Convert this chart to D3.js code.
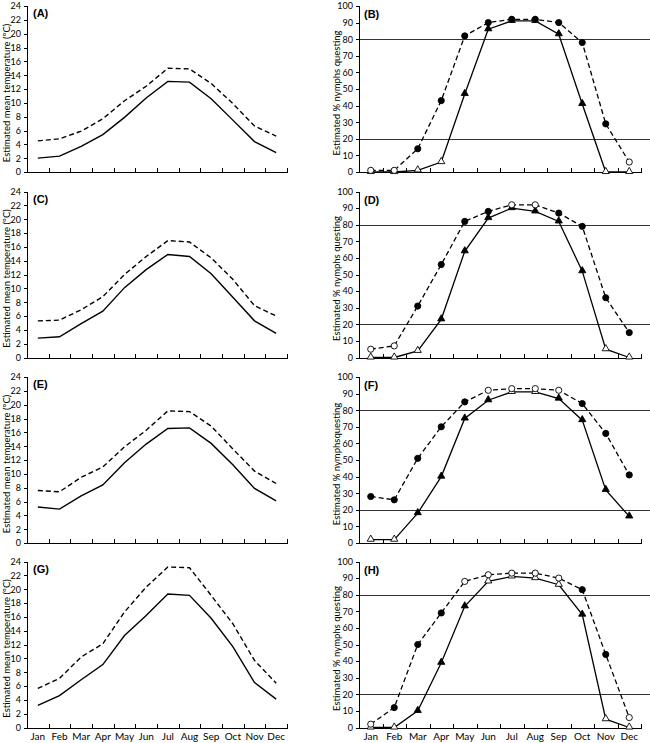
<!DOCTYPE html>
<meta charset="utf-8">
<style>
body { margin: 0; background: #fff; }
svg text { font-family: Lato, "Open Sans", sans-serif; fill: #000; }
.axis path, .axis line { stroke: #000; stroke-width: 1; shape-rendering: crispEdges; }
.axis text { font-size: 9px; }
.plab { font-family: "Liberation Sans", Arial, sans-serif !important; font-weight: bold; font-size: 11px; }
.ylab { font-size: 9.5px; }
</style>
<svg width="650" height="743"></svg>
<script src="https://d3js.org/d3.v7.min.js"></script>
<script>
var months = ["Jan","Feb","Mar","Apr","May","Jun","Jul","Aug","Sep","Oct","Nov","Dec"];
var tempTicks = [0,2,4,6,8,10,12,14,16,18,20,22,24];
var pctTicks = [0,10,20,30,40,50,60,70,80,90,100];
var refLines = [20, 80];

// temperature panels: solid and dashed lines
var tempA_solid = [2.0,2.3,3.7,5.4,7.9,10.7,13.1,13.0,10.6,7.5,4.4,2.8];
var tempA_dash  = [4.5,4.8,5.9,7.7,10.3,12.4,15.0,14.9,12.8,9.9,6.65,5.2];
var tempC_solid = [2.8,3.0,4.9,6.7,10.1,12.7,14.9,14.6,12.1,8.7,5.3,3.5];
var tempC_dash  = [5.3,5.4,6.9,8.8,12.0,14.6,16.9,16.7,14.4,11.3,7.5,6.0];
var tempE_solid = [5.2,4.9,6.8,8.4,11.6,14.3,16.55,16.65,14.4,11.3,7.9,6.1];
var tempE_dash  = [7.6,7.4,9.5,11.0,13.9,16.3,19.1,19.0,16.9,13.6,10.4,8.6];
var tempG_solid = [3.2,4.6,6.9,9.1,13.3,16.2,19.3,19.1,15.8,11.7,6.5,4.1];
var tempG_dash  = [5.65,7.1,10.2,12.1,16.7,20.3,23.2,23.1,19.1,15.0,9.7,6.4];

// questing panels: triangles (solid line) and circles (dashed line), plus open-marker flags
var qB_tri = [0,0,1,6,47,86,91,91,83,41,0,0];
var qB_triOpen = [1,1,1,1,0,0,1,1,0,0,1,1];
var qB_cir = [1,1,14,43,82,90,92,92,90,78,29,6];
var qB_cirOpen = [1,1,0,0,0,0,0,0,0,0,0,1];
var qD_tri = [0,0,4,23,64,84,90,88,82,52,5,0];
var qD_triOpen = [1,1,1,0,0,0,0,0,0,0,1,1];
var qD_cir = [5,7,31,56,82,88,92,92,87,79,36,15];
var qD_cirOpen = [1,1,0,0,0,0,1,1,0,0,0,0];
var qF_tri = [2,2,18,40,75,86,91,91,87,74,32,16];
var qF_triOpen = [1,1,0,0,0,0,1,1,0,0,0,0];
var qF_cir = [28,26,51,70,85,92,93,93,92,84,66,41];
var qF_cirOpen = [0,0,0,0,0,1,1,1,1,0,0,0];
var qH_tri = [0,0,10,39,73,88,91,90,86,68,5,0];
var qH_triOpen = [1,1,0,0,0,1,1,1,1,0,1,1];
var qH_cir = [2,12,50,69,88,92,93,93,90,83,44,6];
var qH_cirOpen = [1,0,0,0,1,1,1,1,1,0,0,1];

var svg = d3.select("svg");
var rowTop = [6, 191.5, 377, 561.5], rowH = 166;

var tempPanels = [
  {lab:"(A)", solid:tempA_solid, dash:tempA_dash},
  {lab:"(C)", solid:tempC_solid, dash:tempC_dash},
  {lab:"(E)", solid:tempE_solid, dash:tempE_dash},
  {lab:"(G)", solid:tempG_solid, dash:tempG_dash}
];
var questPanels = [
  {lab:"(B)", tri:qB_tri, triOpen:qB_triOpen, cir:qB_cir, cirOpen:qB_cirOpen, ylab:"Estimated % nymphs questing"},
  {lab:"(D)", tri:qD_tri, triOpen:qD_triOpen, cir:qD_cir, cirOpen:qD_cirOpen, ylab:"Estimated % nymphs questing"},
  {lab:"(F)", tri:qF_tri, triOpen:qF_triOpen, cir:qF_cir, cirOpen:qF_cirOpen, ylab:"Estimated % nymphsquesting"},
  {lab:"(H)", tri:qH_tri, triOpen:qH_triOpen, cir:qH_cir, cirOpen:qH_cirOpen, ylab:"Estimated % nymphs questing"}
];

function frame(g, x0, x1, y, yTicks, showMonths) {
  var xb = d3.scaleBand().domain(months).range([x0, x1]);
  var xl = d3.scaleLinear().domain([0,12]).range([x0, x1]);
  // boundary ticks (pointing up)
  g.append("g").attr("class","axis")
    .attr("transform","translate(0," + y.range()[0] + ")")
    .call(d3.axisBottom(xl).tickValues(d3.range(0,13)).tickSize(-4).tickSizeOuter(0).tickFormat(""));
  if (showMonths) {
    var ax = g.append("g").attr("class","axis")
      .attr("transform","translate(0," + y.range()[0] + ")")
      .call(d3.axisBottom(xb).tickSize(0).tickPadding(5));
    ax.select(".domain").remove();
    ax.selectAll("text").style("font-size","10px");
  }
  g.append("g").attr("class","axis")
    .attr("transform","translate(" + x0 + ",0)")
    .call(d3.axisLeft(y).tickValues(yTicks).tickSize(3).tickSizeOuter(3).tickPadding(3));
  return xb;
}

var lineSolid = function(xb, y) {
  return d3.line().x(function(d,i){ return xb(months[i]) + xb.bandwidth()/2; }).y(function(d){ return y(d); });
};

tempPanels.forEach(function(p, r) {
  var g = svg.append("g");
  var y = d3.scaleLinear().domain([0,24]).range([rowTop[r] + rowH, rowTop[r]]);
  var xb = frame(g, 27, 287, y, tempTicks, r == 3);
  var ln = lineSolid(xb, y);
  g.append("path").attr("d", ln(p.dash)).attr("fill","none").attr("stroke","#000")
    .attr("stroke-width",1.4).attr("stroke-dasharray","5,3");
  g.append("path").attr("d", ln(p.solid)).attr("fill","none").attr("stroke","#000")
    .attr("stroke-width",1.4);
  g.append("text").attr("class","plab").attr("x",33).attr("y",rowTop[r] + 11).text(p.lab);
  g.append("text").attr("class","ylab")
    .attr("transform","translate(10," + (rowTop[r] + rowH/2 + 4) + ") rotate(-90)")
    .attr("text-anchor","middle").text("Estimated mean temperature (ºC)");
});

questPanels.forEach(function(p, r) {
  var g = svg.append("g");
  var y = d3.scaleLinear().domain([0,100]).range([rowTop[r] + rowH, rowTop[r]]);
  // reference lines
  g.selectAll(".ref").data(refLines).enter().append("line")
    .attr("x1",359).attr("x2",650).attr("y1",function(d){ return Math.round(y(d)) + 0.5; })
    .attr("y2",function(d){ return Math.round(y(d)) + 0.5; })
    .attr("stroke","#333").attr("stroke-width",1);
  var xb = frame(g, 359, 641, y, pctTicks, r == 3);
  var ln = lineSolid(xb, y);
  var cx = function(i){ return xb(months[i]) + xb.bandwidth()/2; };
  g.append("path").attr("d", ln(p.cir)).attr("fill","none").attr("stroke","#000")
    .attr("stroke-width",1.3).attr("stroke-dasharray","5,3");
  g.append("path").attr("d", ln(p.tri)).attr("fill","none").attr("stroke","#000")
    .attr("stroke-width",1.3);
  g.selectAll(".tri").data(p.tri).enter().append("path")
    .attr("d", d3.symbol().type(d3.symbolTriangle).size(22))
    .attr("transform", function(d,i){ return "translate(" + cx(i) + "," + (y(d) - 0.5) + ")"; })
    .attr("fill", function(d,i){ return p.triOpen[i] ? "#fff" : "#000"; })
    .attr("stroke","#000").attr("stroke-width",0.9);
  g.selectAll(".cir").data(p.cir).enter().append("circle")
    .attr("cx", function(d,i){ return cx(i); }).attr("cy", function(d){ return y(d); })
    .attr("r", 3.1)
    .attr("fill", function(d,i){ return p.cirOpen[i] ? "#fff" : "#000"; })
    .attr("stroke","#000").attr("stroke-width",0.9);
  g.append("text").attr("class","plab").attr("x",364).attr("y",rowTop[r] + 12).text(p.lab);
  g.append("text").attr("class","ylab")
    .attr("transform","translate(340," + (rowTop[r] + rowH/2 + 4) + ") rotate(-90)")
    .attr("text-anchor","middle").text(p.ylab);
});
</script>
